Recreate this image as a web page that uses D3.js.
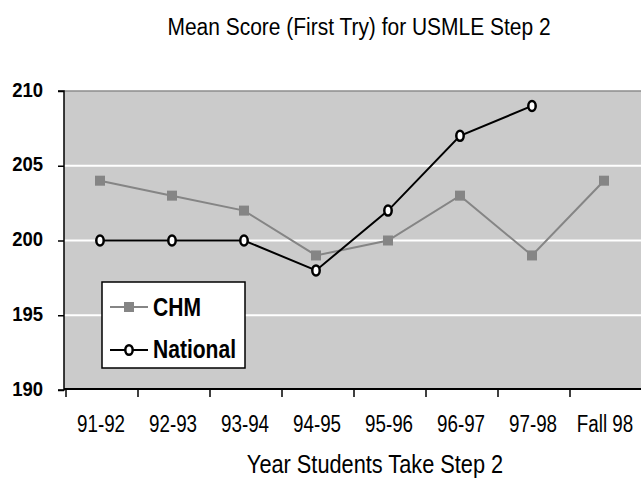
<!DOCTYPE html>
<html><head><meta charset="utf-8">
<script src="https://cdn.jsdelivr.net/npm/d3@7"></script>
<style>body{margin:0;background:#fff}svg{display:block}</style>
</head><body>
<svg id="c" width="641" height="481"></svg>
<script>
const categories = ["91-92","92-93","93-94","94-95","95-96","96-97","97-98","Fall 98"];
const chm = [204,203,202,199,200,203,199,204];
const national = [200,200,200,198,202,207,209];
const yTicks = [190,195,200,205,210];

const font = "'Liberation Sans',Arial,sans-serif";
const svg = d3.select("#c");
const L=64, R=640, T=91, B=390;
const x = d3.scaleBand().domain(categories).range([L,R]);
const y = d3.scaleLinear().domain([190,210]).range([B,T]);

// draws narrow-looking text by horizontally compressing around its anchor
function ntext(g, tx, ty, str, size, sx, anchor, weight){
  return g.append("text").attr("transform",`translate(${tx},${ty}) scale(${sx},1)`)
    .attr("text-anchor",anchor).attr("font-family",font).attr("font-size",size)
    .attr("font-weight",weight||"normal").attr("fill","#000").text(str);
}

svg.append("rect").attr("x",L).attr("y",T).attr("width",641-L).attr("height",B-T).attr("fill","#cbcbcb");
svg.append("line").attr("x1",L).attr("x2",641).attr("y1",T).attr("y2",T).attr("stroke","#8c8c8c").attr("stroke-width",1.5);
svg.selectAll(".grid").data(yTicks.filter(d=>d>190 && d<210)).enter().append("line")
  .attr("x1",L).attr("x2",641).attr("y1",d=>y(d)).attr("y2",d=>y(d)).attr("stroke","#fff").attr("stroke-width",2);

// y axis
const ya = svg.append("g").attr("transform",`translate(${L},0)`).call(d3.axisLeft(y).tickValues(yTicks).tickSize(6).tickPadding(10));
ya.select(".domain").attr("stroke","#000").attr("stroke-width",1.5).attr("d",`M-6,${T}H0V${B}H-6`);
ya.selectAll(".tick line").attr("stroke","#000").attr("stroke-width",1.5);
ya.selectAll(".tick text").remove();
ya.selectAll(".tick").each(function(d){
  ntext(d3.select(this), -21, 5, d, 21, 0.88, "end", "bold");
});

// x axis
const xa = svg.append("g").attr("transform",`translate(0,${B-1})`).call(d3.axisBottom(x).tickSize(0));
xa.select(".domain").remove();
xa.append("line").attr("x1",L).attr("x2",641).attr("y1",0).attr("y2",0).attr("stroke","#000").attr("stroke-width",2);
const bounds = categories.map(c=>x(c)).concat([R]);
xa.selectAll(".bt").data(bounds).enter().append("line").attr("x1",d=>d+2).attr("x2",d=>d+2).attr("y1",0).attr("y2",8).attr("stroke","#000").attr("stroke-width",1.5);
xa.selectAll(".tick text").remove();
xa.selectAll(".tick").each(function(d){
  ntext(d3.select(this), 1, 43, d, 23.5, 0.8, "middle");
});

const cx = c=>x(c)+x.bandwidth()/2;
const lineGen = d3.line().x((d,i)=>cx(categories[i])).y(d=>y(d));
svg.append("path").datum(chm).attr("d",lineGen).attr("fill","none").attr("stroke","#858585").attr("stroke-width",2);
svg.selectAll(".sq").data(chm).enter().append("rect")
  .attr("x",(d,i)=>cx(categories[i])-5).attr("y",d=>y(d)-5).attr("width",10).attr("height",10).attr("fill","#858585");
svg.append("path").datum(national).attr("d",lineGen).attr("fill","none").attr("stroke","#000").attr("stroke-width",2);
svg.selectAll(".ci").data(national).enter().append("ellipse")
  .attr("cx",(d,i)=>cx(categories[i])).attr("cy",d=>y(d)).attr("rx",3.7).attr("ry",5)
  .attr("fill","#fff").attr("stroke","#000").attr("stroke-width",2.5);

// legend
const lg = svg.append("g");
lg.append("rect").attr("x",102).attr("y",282).attr("width",143).attr("height",86).attr("fill","#fff").attr("stroke","#000").attr("stroke-width",1.5);
lg.append("line").attr("x1",110).attr("x2",148).attr("y1",307).attr("y2",307).attr("stroke","#858585").attr("stroke-width",2);
lg.append("rect").attr("x",124).attr("y",302).attr("width",10).attr("height",10).attr("fill","#858585");
ntext(lg, 153, 316, "CHM", 26, 0.81, "start", "bold");
lg.append("line").attr("x1",110).attr("x2",148).attr("y1",350).attr("y2",350).attr("stroke","#000").attr("stroke-width",2);
lg.append("ellipse").attr("cx",129).attr("cy",350).attr("rx",3.7).attr("ry",4.8).attr("fill","#fff").attr("stroke","#000").attr("stroke-width",2.5);
ntext(lg, 153, 358, "National", 26, 0.81, "start", "bold");

ntext(svg, 359, 35, "Mean Score (First Try) for USMLE Step 2", 24, 0.874, "middle");
ntext(svg, 375, 473, "Year Students Take Step 2", 25, 0.87, "middle");
</script>
</body></html>
